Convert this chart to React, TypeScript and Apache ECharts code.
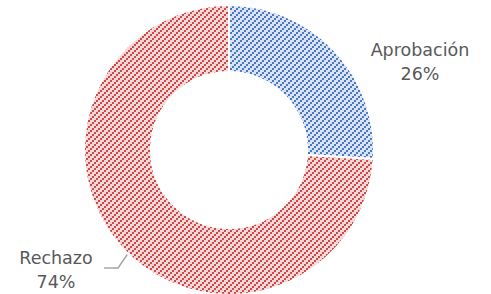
import React, { useEffect, useRef } from "react";
import * as echarts from "echarts";

const categories = ["Aprobación", "Rechazo"];
const values = [26, 74];

function makePattern(bg: string, fg: string) {
  const size = 6;
  const c = document.createElement("canvas");
  c.width = size;
  c.height = size;
  const ctx = c.getContext("2d")!;
  ctx.fillStyle = bg;
  ctx.fillRect(0, 0, size, size);
  ctx.fillStyle = fg;
  for (let i = 0; i < 3; i++) {
    ctx.fillRect(i * 2, size - 2 - i * 2, 2, 2);
  }
  return c;
}

export default function App() {
  const ref = useRef<HTMLDivElement>(null);
  useEffect(() => {
    const chart = echarts.init(ref.current!, null, { renderer: "svg" });
    const patterns = [
      makePattern("#dbe4f4", "#4a78c8"),
      makePattern("#f5d8d8", "#d04848"),
    ];
    chart.setOption({
      animation: false,
      backgroundColor: "#ffffff",
      series: [
        {
          type: "pie",
          center: [229, 150],
          radius: [78, 145],
          startAngle: 90,
          clockwise: true,
          avoidLabelOverlap: false,
          itemStyle: { borderColor: "#ffffff", borderWidth: 2 },
          label: {
            show: true,
            formatter: "{b}\n{c}%",
            fontFamily: "DejaVu Sans",
            fontSize: 17.5,
            lineHeight: 24,
            color: "#595959",
            align: "center",
          },
          labelLine: { show: true, lineStyle: { color: "#a6a6a6", width: 1.5 } },
          labelLayout: (p: any) => {
            if (p.dataIndex === 0) {
              return { x: 420, y: 62, align: "center", verticalAlign: "middle" };
            }
            return {
              x: 56,
              y: 270,
              align: "center",
              verticalAlign: "middle",
              labelLinePoints: [
                [147, 226],
                [118, 268],
                [104, 268],
              ],
            };
          },
          data: categories.map((name, i) => ({
            name,
            value: values[i],
            itemStyle: { color: { image: patterns[i], repeat: "repeat" } },
            labelLine: { show: i === 1 },
          })),
        },
      ],
    });
    return () => chart.dispose();
  }, []);
  return (
    <div
      ref={ref}
      style={{ position: "fixed", left: 0, top: 0, width: 491, height: 294 }}
    />
  );
}
